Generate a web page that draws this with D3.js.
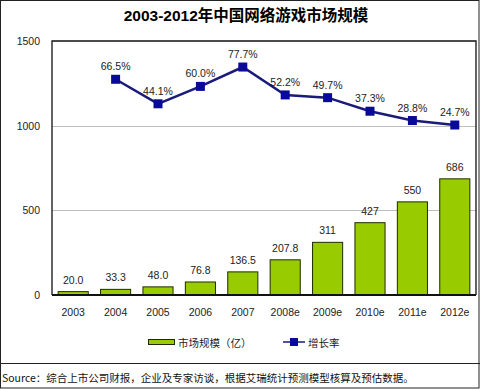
<!DOCTYPE html>
<html>
<head>
<meta charset="utf-8">
<script src="https://cdn.jsdelivr.net/npm/d3@7"></script>
<style>
body { margin:0; background:#fff; }
text { font-family: "Liberation Sans", "Noto Sans CJK SC", sans-serif; }
</style>
</head>
<body>
<div id="chart"></div>
<script>
var years = ["2003","2004","2005","2006","2007","2008e","2009e","2010e","2011e","2012e"]
var market = [20.0, 33.3, 48.0, 76.8, 136.5, 207.8, 311, 427, 550, 686]
var marketLabels = ["20.0","33.3","48.0","76.8","136.5","207.8","311","427","550","686"]
var growthYears = ["2004","2005","2006","2007","2008e","2009e","2010e","2011e","2012e"]
var growth = [66.5, 44.1, 60.0, 77.7, 52.2, 49.7, 37.3, 28.8, 24.7]
var yTicks = [0, 500, 1000, 1500]

var W = 480, H = 389
var margin = ({top:41, right:4, bottom:94, left:52})

var svg = d3.select('#chart').append('svg')
  .attr('width', W)
  .attr('height', H)

var x = d3.scaleBand()
  .domain(years)
  .range([margin.left, W - margin.right])
  .paddingInner(0.29)
  .paddingOuter(0.145)

var y = d3.scaleLinear()
  .domain([0, 1500])
  .range([H - margin.bottom, margin.top])

// growth rate sits on a hidden secondary axis
var y2 = d3.scaleLinear()
  .domain([-130.7, 101.5])
  .range([H - margin.bottom, margin.top])

// outer frame + separator
svg.append("rect")
  .attr("x", 0.5).attr("y", 0.5)
  .attr("width", W - 1.5).attr("height", H - 1.5)
  .attr("fill", "none").attr("stroke", "#222")
svg.append("line")
  .attr("x1", 0).attr("x2", W)
  .attr("y1", 363.5).attr("y2", 363.5)
  .attr("stroke", "#222")

svg.append("text")
  .attr("x", 246).attr("y", 21)
  .attr("text-anchor", "middle")
  .attr("font-size", 15.5)
  .attr("font-weight", "bold")
  .text("2003-2012年中国网络游戏市场规模")

// gridlines
svg.append("g")
  .selectAll("line")
  .data(yTicks.filter(d => d > 0 && d < 1500))
  .join("line")
  .attr("x1", margin.left).attr("x2", W - margin.right)
  .attr("y1", d => Math.round(y(d)) + 0.5).attr("y2", d => Math.round(y(d)) + 0.5)
  .attr("stroke", "#bdbdbd")

var yAxis = g => g
  .attr("transform", `translate(${margin.left - 12},0)`)
  .call(d3.axisLeft(y).tickValues(yTicks).tickFormat(d3.format("d")).tickSize(0).tickPadding(0))
  .call(g => g.select(".domain").remove())
  .call(g => g.selectAll("text").attr("font-size", 10.5).attr("fill", "#222")
    .style("font-family", "Liberation Sans"))
svg.append("g").call(yAxis)

var xAxis = g => g
  .attr("transform", `translate(0,${H - margin.bottom})`)
  .call(d3.axisBottom(x).tickSize(0).tickPadding(14))
  .call(g => g.select(".domain").remove())
  .call(g => g.selectAll("text").attr("font-size", 10.5).attr("fill", "#222")
    .style("font-family", "Liberation Sans"))
svg.append("g").call(xAxis)

// bars
svg.append("g")
  .selectAll("rect")
  .data(market)
  .join("rect")
  .attr("x", (d, i) => x(years[i]))
  .attr("y", d => y(d))
  .attr("width", x.bandwidth())
  .attr("height", d => y(0) - y(d))
  .attr("fill", "#99cc00")
  .attr("stroke", "#1f2a00")
  .attr("stroke-width", 1)

svg.append("g")
  .selectAll("text")
  .data(market)
  .join("text")
  .attr("x", (d, i) => x(years[i]) + x.bandwidth() / 2)
  .attr("y", d => y(d) - 8)
  .attr("text-anchor", "middle")
  .attr("font-size", 10.5)
  .attr("fill", "#222")
  .text((d, i) => marketLabels[i])

// plot border
svg.append("path")
  .attr("d", `M${margin.left},${H - margin.bottom}V${margin.top}H${W - margin.right}V${H - margin.bottom}`)
  .attr("fill", "none").attr("stroke", "#111").attr("stroke-width", 1.3)
svg.append("line")
  .attr("x1", margin.left).attr("x2", W - margin.right)
  .attr("y1", y(0)).attr("y2", y(0))
  .attr("stroke", "#111").attr("stroke-width", 2)

// growth line
var lineFunction = d3.line()
  .x((d, i) => x(growthYears[i]) + x.bandwidth() / 2)
  .y(d => y2(d))

svg.append("path")
  .attr("d", lineFunction(growth))
  .attr("stroke", "#1a1a7a")
  .attr("stroke-width", 2.5)
  .attr("fill", "none")

svg.append("g")
  .selectAll("rect")
  .data(growth)
  .join("rect")
  .attr("x", (d, i) => x(growthYears[i]) + x.bandwidth() / 2 - 4.5)
  .attr("y", d => y2(d) - 4.5)
  .attr("width", 9).attr("height", 9)
  .attr("fill", "#0a0a9a")

svg.append("g")
  .selectAll("text")
  .data(growth)
  .join("text")
  .attr("x", (d, i) => x(growthYears[i]) + x.bandwidth() / 2)
  .attr("y", d => y2(d) - 9)
  .attr("text-anchor", "middle")
  .attr("font-size", 10.5)
  .attr("fill", "#222")
  .text(d => d.toFixed(1) + "%")

// legend
var lg = svg.append("g").attr("transform", "translate(0,343)")
lg.append("rect")
  .attr("x", 148.5).attr("y", -3.5).attr("width", 26).attr("height", 5)
  .attr("fill", "#99cc00").attr("stroke", "#1f2a00")
lg.append("text")
  .attr("x", 178).attr("y", 4)
  .attr("font-size", 10.5).attr("fill", "#222")
  .style("font-family", "Noto Sans CJK SC")
  .text("市场规模（亿）")
lg.append("line")
  .attr("x1", 283).attr("x2", 305).attr("y1", -1).attr("y2", -1)
  .attr("stroke", "#1a1a7a").attr("stroke-width", 1.5)
lg.append("rect")
  .attr("x", 290).attr("y", -5).attr("width", 8).attr("height", 8)
  .attr("fill", "#0a0a9a")
lg.append("text")
  .attr("x", 308).attr("y", 4)
  .attr("font-size", 10.5).attr("fill", "#222")
  .style("font-family", "Noto Sans CJK SC")
  .text("增长率")

svg.append("text")
  .attr("x", 2).attr("y", 382)
  .attr("font-size", 10.5).attr("fill", "#111")
  .style("font-family", "Noto Sans CJK SC")
  .text("Source：综合上市公司财报，企业及专家访谈，根据艾瑞统计预测模型核算及预估数据。")
</script>
</body>
</html>
